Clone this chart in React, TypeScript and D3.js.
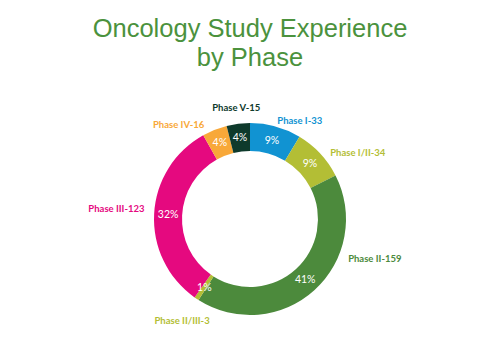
import React, { useEffect, useRef } from 'react';
import * as d3 from 'd3';

// Data
const phases = ['Phase I', 'Phase I/II', 'Phase II', 'Phase II/III', 'Phase III', 'Phase IV', 'Phase V'];
const studies = [33, 34, 159, 3, 123, 16, 15];
const percentLabels = ['9%', '9%', '41%', '1%', '32%', '4%', '4%'];
const colors = ['#1193d2', '#b3be35', '#4c8a3c', '#b3be35', '#e5097f', '#f8a839', '#0e3a2c'];

// label placement: angle shift (deg) from slice middle, radius, anchor
const labelLayout = [
  { shift: 0, r: 102, anchor: 'start' },
  { shift: 3.5, r: 104, anchor: 'start' },
  { shift: -25.5, r: 106, anchor: 'start' },
  { shift: 0, r: 122, anchor: 'middle' },
  { shift: 2.4, r: 106, anchor: 'end' },
  { shift: -4.2, r: 105, anchor: 'end' },
  { shift: 0, r: 112, anchor: 'middle' },
];

export default function App() {
  const svgRef = useRef<SVGSVGElement>(null);

  useEffect(() => {
    if (!svgRef.current) return;
    const svg = d3.select(svgRef.current);
    svg.selectAll('*').remove();

    const width = 500;
    const cx = 250, cy = 219;
    const outer = 96, inner = 68;

    // Title
    const title = svg.append('text')
      .attr('text-anchor', 'middle')
      .attr('font-family', '"Liberation Sans", Arial, sans-serif')
      .attr('font-size', 25.5)
      .attr('fill', '#4b923d');
    title.append('tspan').attr('x', width / 2).attr('y', 37).text('Oncology Study Experience');
    title.append('tspan').attr('x', width / 2).attr('y', 66).text('by Phase');

    const pie = d3.pie<number>().sort(null).value(d => d);
    const arcs = pie(studies);
    const arc = d3.arc<d3.PieArcDatum<number>>().innerRadius(inner).outerRadius(outer);
    const mid = d3.arc<d3.PieArcDatum<number>>().innerRadius(82).outerRadius(82);

    const g = svg.append('g').attr('transform', `translate(${cx},${cy})`);

    g.selectAll('path')
      .data(arcs)
      .enter()
      .append('path')
      .attr('d', arc)
      .attr('fill', (d, i) => colors[i]);

    // percent labels inside ring
    g.selectAll('.pct')
      .data(arcs)
      .enter()
      .append('text')
      .attr('class', 'pct')
      .attr('transform', d => `translate(${mid.centroid(d)})`)
      .attr('text-anchor', 'middle')
      .attr('dy', '0.35em')
      .attr('font-family', 'Lato, sans-serif')
      .attr('font-size', 10.5)
      .attr('fill', '#ffffff')
      .text((d, i) => percentLabels[i]);

    // outer category labels
    const angle = (d: d3.PieArcDatum<number>, i: number) =>
      (d.startAngle + d.endAngle) / 2 + (labelLayout[i].shift * Math.PI) / 180;

    g.selectAll('.lbl')
      .data(arcs)
      .enter()
      .append('text')
      .attr('class', 'lbl')
      .attr('x', (d, i) => Math.sin(angle(d, i)) * labelLayout[i].r)
      .attr('y', (d, i) => -Math.cos(angle(d, i)) * labelLayout[i].r)
      .attr('dy', '0.35em')
      .attr('text-anchor', (d, i) => labelLayout[i].anchor)
      .attr('font-family', 'Lato, sans-serif')
      .attr('font-weight', 'bold')
      .attr('font-size', 9.5)
      .attr('fill', (d, i) => colors[i])
      .text((d, i) => `${phases[i]}-${studies[i]}`);
  }, []);

  return (
    <svg ref={svgRef} width={500} height={362} style={{ position: 'absolute', left: 0, top: 0 }}></svg>
  );
}
